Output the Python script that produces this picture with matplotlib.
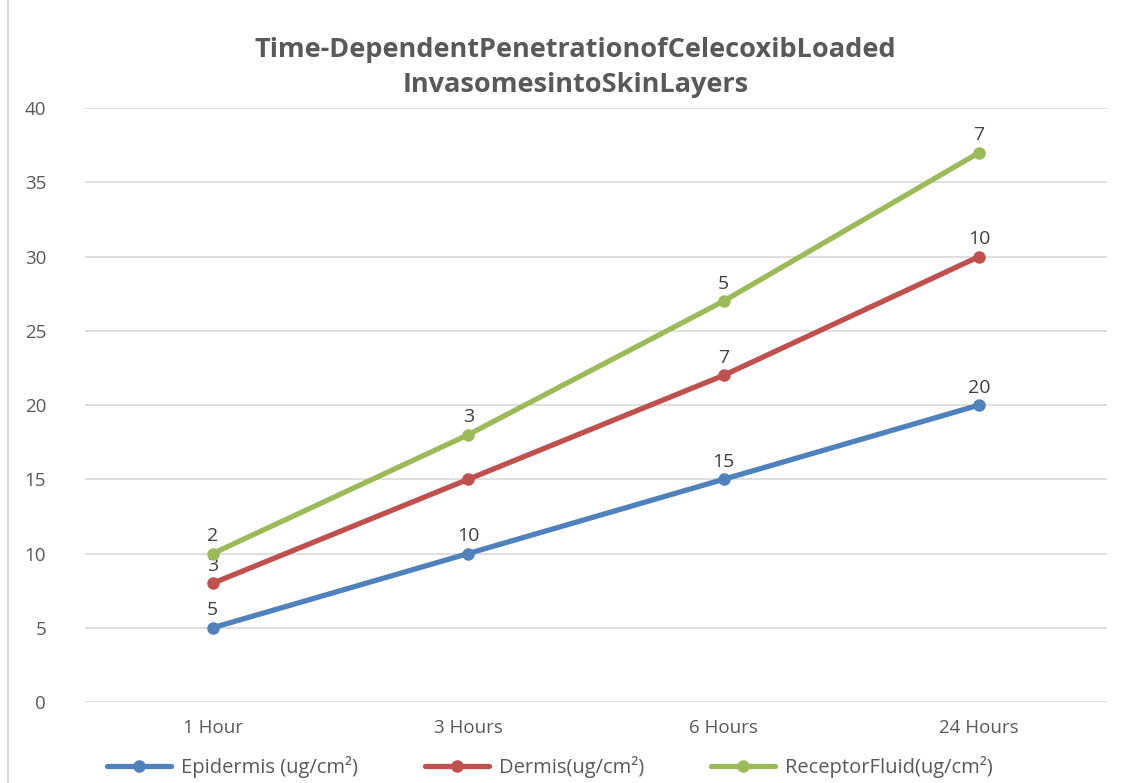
import numpy as np
import matplotlib.pyplot as plt
from matplotlib.patches import Rectangle

# dados (gráfico de linhas empilhadas, rótulos mostram o valor de cada série)
tempos = ["1 Hour", "3 Hours", "6 Hours", "24 Hours"]
epiderme = [5, 10, 15, 20]
derme = [3, 5, 7, 10]
fluido_receptor = [2, 3, 5, 7]
# rótulos visíveis no original (o de 3 Hours da derme não aparece)
rotulos_epiderme = ["5", "10", "15", "20"]
rotulos_derme = ["3", "", "7", "10"]
rotulos_fluido = ["2", "3", "5", "7"]
nomes = ["Epidermis (ug/cm²)", "Dermis(ug/cm²)", "ReceptorFluid(ug/cm²)"]
cores = ["#4F81BD", "#C0504D", "#9BBB59"]

plt.rcParams['font.family'] = ['Open Sans', 'DejaVu Sans']

fig = plt.figure(figsize=(11.26, 7.83), dpi=100)
ax = fig.add_axes([0.0755, 0.1034, 0.9075, 0.7586])

x = np.arange(len(tempos))
series = [epiderme, derme, fluido_receptor]
rotulos = [rotulos_epiderme, rotulos_derme, rotulos_fluido]
base = np.zeros(len(tempos))
for valores, rots, nome, cor in zip(series, rotulos, nomes, cores):
    topo = base + np.array(valores)
    ax.plot(x, topo, color=cor, linewidth=3.8, marker="o", markersize=8,
            label=nome, solid_capstyle="round", zorder=3)
    for xi, yi, r in zip(x, topo, rots):
        if r:
            ax.annotate(r, (xi, yi), xytext=(0, 6), textcoords="offset points",
                        ha="center", va="bottom", fontsize=14, color="#404040",
                        zorder=2)
    base = topo

ax.set_xlim(-0.5, 3.5)
ax.set_ylim(0, 40)
ax.set_yticks(range(0, 41, 5))
ax.set_xticks(x)
ax.set_xticklabels(tempos)
ax.grid(axis="y", color="#D9D9D9", linewidth=1.2)
ax.set_axisbelow(True)
for s in ax.spines.values():
    s.set_visible(False)
ax.tick_params(length=0, labelsize=13.5, colors="#595959")
ax.tick_params(axis="y", pad=28)
ax.tick_params(axis="x", pad=12)

fig.text(0.511, 0.914, "Time-DependentPenetrationofCelecoxibLoaded\nInvasomesintoSkinLayers",
         ha="center", va="center", fontsize=19.5, fontweight="bold", color="#595959",
         linespacing=1.45)

ax.legend(loc="upper center", bbox_to_anchor=(0.455, -0.06), ncol=3, frameon=False,
          fontsize=14.5, labelcolor="#595959", handlelength=3.2, handletextpad=0.5,
          columnspacing=3.3)

# borda do gráfico
fig.patches.append(Rectangle((0.007, -0.01), 1.1, 1.02, transform=fig.transFigure,
                             fill=False, edgecolor="#D9D9D9", linewidth=1.5))

plt.savefig("out.png", dpi=100)
plt.close()
